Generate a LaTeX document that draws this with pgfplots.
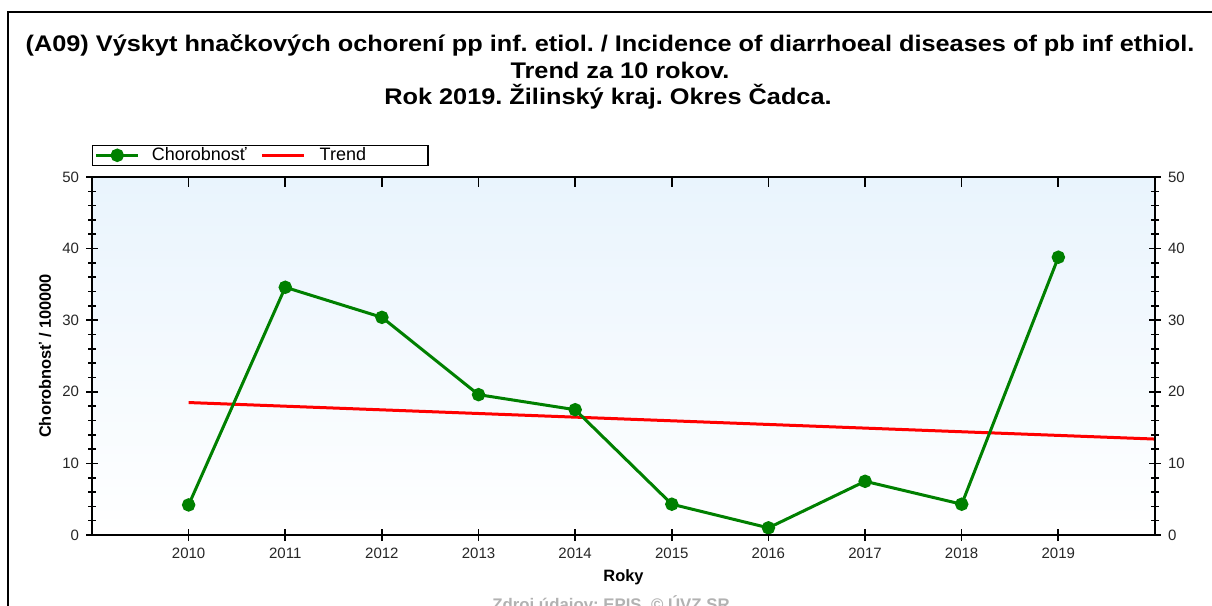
\documentclass[border=0pt]{standalone}
\usepackage{fontspec}
\setmainfont{Liberation Sans}
\newfontfamily\titlefont[FakeStretch=1.12]{Liberation Sans}
\usepackage{pgfplots}
\pgfplotsset{compat=1.18}

\definecolor{chgreen}{RGB}{0,128,0}
\definecolor{bgblue}{RGB}{233,244,253}

\pgfplotsset{
  frame/.style={
    at={(sw)}, anchor=south west,
    scale only axis, width=531.5pt, height=179pt,
    xmin=2009, xmax=2020, ymin=0, ymax=50,
    axis line style={line width=0.8pt},
    tick style={line width=0.8pt, black},
    major tick length=6pt, minor tick length=4pt,
    ticklabel style={font=\fontsize{7.5}{8}\selectfont, text=black!85},
    /pgf/number format/assume math mode=true,
    x tick label style={/pgf/number format/1000 sep={}},
  },
}

\begin{document}
\frenchspacing
\begin{tikzpicture}
\clip (0,0) rectangle (606pt,303pt);
% pixel grid of the reference: 1px = 0.5pt, y measured from the bottom
\begin{scope}[x=0.5pt,y=0.5pt]
  \fill[white] (0,0) rectangle (1212,606);
  \draw[line width=0.9pt] (8,-20) -- (8,594) -- (1240,594);
  \node[font=\titlefont\bfseries\fontsize{11.3}{13}\selectfont] at (610,561)
    {(A09) Výskyt hnačkových ochorení pp inf. etiol. / Incidence of diarrhoeal diseases of pb inf ethiol.};
  \node[font=\titlefont\bfseries\fontsize{11.3}{13}\selectfont] at (620,536) {Trend za 10 rokov.};
  \node[font=\titlefont\bfseries\fontsize{11.3}{13}\selectfont] at (608,509) {Rok 2019. Žilinský kraj. Okres Čadca.};
  \node[anchor=base, text=black!30, font=\bfseries\fontsize{8.4}{9}\selectfont] at (611,-4)
    {Zdroj údajov: EPIS, © ÚVZ SR};
  \coordinate (sw) at (92,71);
\end{scope}

% main axis: left and bottom ticks, data
\begin{axis}[
    frame,
    xtick={2010,...,2019}, ytick={0,10,...,50},
    minor y tick num=4,
    xtick pos=left, ytick pos=left,
    tick align=center,
    axis background/.style={top color=bgblue, bottom color=white},
    xlabel={Roky}, ylabel={Chorobnosť / 100000},
    label style={font=\bfseries\fontsize{8.2}{9}\selectfont},
    x label style={at={(axis description cs:0.5,-0.1173)}, anchor=center},
    y label style={at={(axis description cs:-0.0442,0.5)}, anchor=center},
    legend style={at={(axis description cs:0,1.0307)}, anchor=south west,
      draw=black, line width=0.7pt, font=\fontsize{9}{10}\selectfont,
      inner ysep=0pt, inner xsep=1pt, row sep=0pt,
      nodes={inner ysep=1pt},
      /tikz/every even column/.append style={column sep=0pt}},
    legend columns=2,
    legend image code/.code={\draw[mark repeat=2,mark phase=2]
      plot coordinates {(0cm,0cm) (0.37cm,0cm) (0.74cm,0cm)};},
  ]
  % trend line
  \addplot[red, line width=1.5pt, forget plot] coordinates {(2010,18.5) (2020,13.4)};
  % incidence per 100000
  \addplot[chgreen, line width=1.5pt, mark=*, mark size=2.6pt] coordinates {
    (2010,4.2) (2011,34.6) (2012,30.4) (2013,19.6) (2014,17.5)
    (2015,4.3) (2016,1.0) (2017,7.5) (2018,4.3) (2019,38.8)};
  \addlegendentry{\hspace*{4pt}Chorobnosť\hspace*{5pt}}
  \addlegendimage{red, line width=1.5pt}
  \addlegendentry{\hspace*{5pt}Trend\hspace*{28pt}}
\end{axis}

% right axis ticks and labels
\begin{axis}[
    frame,
    xtick=\empty, ytick={0,10,...,50},
    minor y tick num=4,
    ytick pos=right, yticklabel pos=right,
    tick align=center,
  ]
\end{axis}

% top ticks pointing inwards
\begin{axis}[
    frame,
    xtick={2010,...,2019}, ytick=\empty,
    xtick pos=right, xticklabels={},
    tick align=inside, major tick length=5pt,
  ]
\end{axis}
\end{tikzpicture}
\end{document}
